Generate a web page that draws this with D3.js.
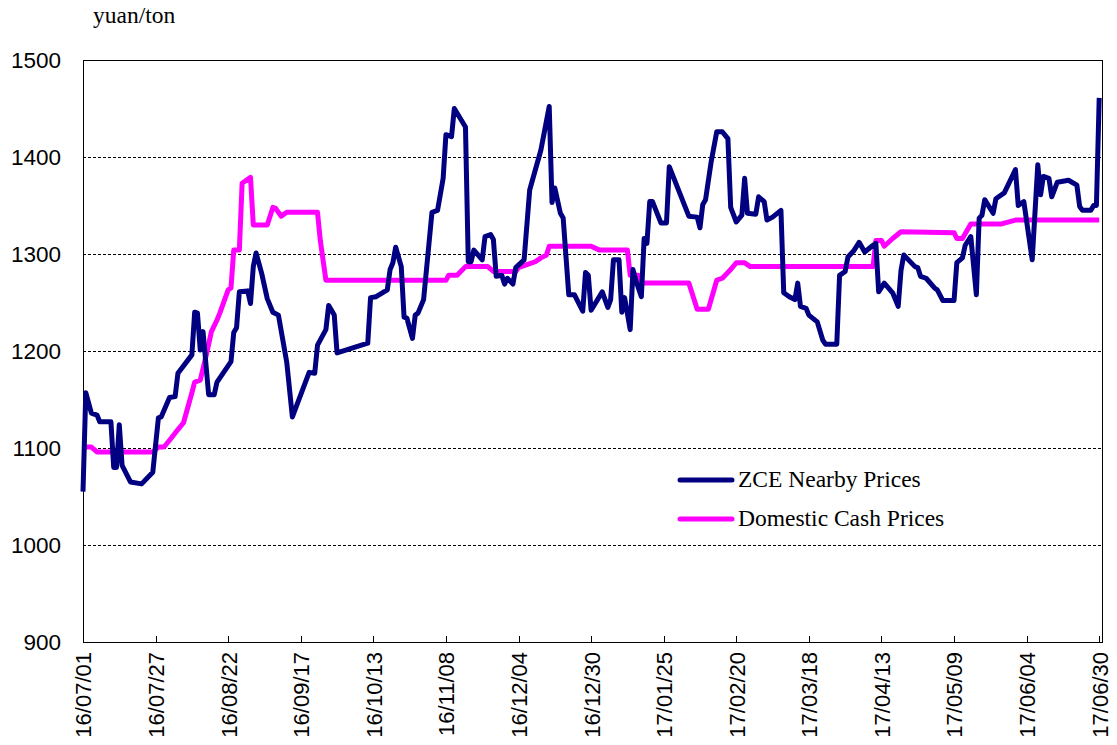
<!DOCTYPE html>
<html>
<head>
<meta charset="utf-8">
<script src="https://cdn.jsdelivr.net/npm/d3@7"></script>
<style>
  body { margin: 0; background: #fff; }
  svg { display: block; }
  .axis text { font-family: "Liberation Sans", Arial, sans-serif; fill: #000; }
  .serif { font-family: "Liberation Serif", "Times New Roman", serif; fill: #000; }
</style>
</head>
<body>
<svg width="1117" height="745"></svg>
<script>
// ZCE nearby futures, yuan/ton
var zceDates = [
  "16/07/01","16/07/02","16/07/04","16/07/06","16/07/07","16/07/11","16/07/12","16/07/13","16/07/14","16/07/15",
  "16/07/18","16/07/22","16/07/26","16/07/28","16/07/29","16/08/01","16/08/03","16/08/04","16/08/09","16/08/10",
  "16/08/11","16/08/12","16/08/13","16/08/15","16/08/17","16/08/18","16/08/23","16/08/24","16/08/25","16/08/26",
  "16/08/29","16/08/30","16/08/31","16/09/01","16/09/03","16/09/05","16/09/07","16/09/09","16/09/12","16/09/14",
  "16/09/20","16/09/22","16/09/23","16/09/26","16/09/27","16/09/29","16/09/30","16/10/11","16/10/12","16/10/14",
  "16/10/18","16/10/19","16/10/20","16/10/21","16/10/23","16/10/24","16/10/25","16/10/27","16/10/28","16/10/29",
  "16/10/31","16/11/03","16/11/05","16/11/07","16/11/08","16/11/10","16/11/11","16/11/15","16/11/16","16/11/17",
  "16/11/18","16/11/21","16/11/22","16/11/24","16/11/25","16/11/26","16/11/28","16/11/29","16/11/30","16/12/02",
  "16/12/03","16/12/06","16/12/08","16/12/12","16/12/15","16/12/16","16/12/17","16/12/19","16/12/20","16/12/22",
  "16/12/24","16/12/27","16/12/28","16/12/29","16/12/30","17/01/03","17/01/05","17/01/06","17/01/07","17/01/09",
  "17/01/10","17/01/11","17/01/13","17/01/14","17/01/15","17/01/17","17/01/18","17/01/19","17/01/20","17/01/21",
  "17/01/24","17/01/26","17/01/27","17/02/03","17/02/06","17/02/07","17/02/08","17/02/09","17/02/11","17/02/13",
  "17/02/15","17/02/17","17/02/18","17/02/20","17/02/22","17/02/23","17/02/24","17/02/27","17/02/28","17/03/02",
  "17/03/03","17/03/05","17/03/08","17/03/09","17/03/11","17/03/13","17/03/14","17/03/15","17/03/17","17/03/18",
  "17/03/21","17/03/23","17/03/24","17/03/28","17/03/29","17/03/31","17/04/01","17/04/03","17/04/05","17/04/07",
  "17/04/10","17/04/11","17/04/12","17/04/14","17/04/17","17/04/19","17/04/20","17/04/21","17/04/22","17/04/25",
  "17/04/26","17/04/27","17/04/29","17/05/02","17/05/03","17/05/05","17/05/09","17/05/10","17/05/12","17/05/13",
  "17/05/15","17/05/17","17/05/18","17/05/19","17/05/20","17/05/23","17/05/24","17/05/25","17/05/27","17/05/31",
  "17/06/01","17/06/03","17/06/06","17/06/08","17/06/09","17/06/10","17/06/12","17/06/13","17/06/15","17/06/19",
  "17/06/22","17/06/23","17/06/24","17/06/27","17/06/28","17/06/29","17/06/30"
];
var zcePrices = [
  1055,1157,1136,1134,1127,1127,1080,1080,1124,1082,
  1065,1063,1075,1131,1132,1152,1153,1177,1196,1240,
  1239,1201,1220,1155,1155,1168,1189,1219,1224,1261,
  1262,1249,1287,1301,1280,1254,1240,1237,1188,1132,
  1178,1177,1206,1222,1247,1237,1198,1208,1255,1256,
  1263,1284,1291,1307,1287,1235,1234,1213,1237,1239,
  1253,1343,1345,1378,1423,1421,1450,1431,1292,1292,
  1304,1294,1318,1320,1315,1277,1278,1269,1275,1269,
  1286,1294,1366,1407,1452,1353,1368,1342,1337,1258,
  1258,1241,1281,1278,1242,1261,1245,1253,1294,1294,
  1240,1255,1222,1284,1273,1256,1316,1311,1354,1354,
  1332,1332,1390,1339,1338,1327,1351,1356,1395,1426,
  1426,1419,1348,1333,1340,1378,1342,1341,1359,1354,
  1335,1338,1345,1260,1256,1253,1270,1246,1244,1237,
  1230,1211,1207,1207,1278,1282,1297,1303,1312,1302,
  1309,1311,1261,1270,1260,1246,1283,1299,1296,1287,
  1286,1277,1275,1265,1263,1252,1252,1291,1296,1309,
  1318,1258,1337,1340,1356,1342,1357,1359,1363,1387,
  1350,1354,1294,1392,1361,1380,1378,1359,1374,1376,
  1371,1349,1345,1345,1350,1350,1461
];

// Domestic cash prices, yuan/ton
var cashDates = [
  "16/07/01","16/07/04","16/07/06","16/07/26","16/07/28","16/07/30","16/08/01","16/08/04","16/08/06","16/08/09",
  "16/08/10","16/08/12","16/08/14","16/08/16","16/08/18","16/08/19","16/08/22","16/08/23","16/08/24","16/08/26",
  "16/08/27","16/08/30","16/08/31","16/09/05","16/09/07","16/09/08","16/09/10","16/09/12","16/09/23","16/09/24",
  "16/09/26","16/11/08","16/11/09","16/11/12","16/11/15","16/11/23","16/11/25","16/12/03","16/12/04","16/12/07",
  "16/12/10","16/12/12","16/12/14","16/12/15","16/12/30","17/01/02","17/01/12","17/01/13","17/01/16","17/01/17",
  "17/02/03","17/02/06","17/02/10","17/02/13","17/02/15","17/02/18","17/02/20","17/02/23","17/02/25","17/04/10",
  "17/04/11","17/04/13","17/04/14","17/04/17","17/04/20","17/05/09","17/05/10","17/05/12","17/05/15","17/05/26",
  "17/05/31","17/06/30"
];
var cashPrices = [
  1101,1101,1096,1096,1101,1101,1108,1119,1126,1157,
  1168,1170,1194,1220,1232,1239,1263,1265,1304,1304,
  1373,1379,1330,1330,1348,1347,1339,1343,1343,1314,
  1273,1273,1278,1278,1287,1287,1282,1282,1286,1289,
  1292,1296,1299,1308,1308,1304,1304,1278,1278,1270,
  1270,1243,1243,1273,1275,1284,1291,1291,1287,1287,
  1314,1314,1308,1316,1323,1322,1316,1316,1331,1331,
  1335,1335
];

var xTickLabels = ["16/07/01","16/07/27","16/08/22","16/09/17","16/10/13","16/11/08","16/12/04",
  "16/12/30","17/01/25","17/02/20","17/03/18","17/04/13","17/05/09","17/06/04","17/06/30"];
var yTicks = [900, 1000, 1100, 1200, 1300, 1400, 1500];
var seriesNames = ["ZCE Nearby Prices", "Domestic Cash Prices"];
var seriesColors = ["#000080", "#ff00ff"];

var parse = d3.timeParse("%y/%m/%d");

var svg = d3.select("svg");
var margin = { top: 60, left: 83 },
    width = 1019,
    height = 582;

var x = d3.scaleTime()
  .domain([parse("16/07/01"), parse("17/07/01")])
  .range([0, width]);
var y = d3.scaleLinear().domain([900, 1500]).range([height, 0]);

var g = svg.append("g")
  .attr("transform", "translate(" + margin.left + "," + margin.top + ")");

// dotted gridlines
g.selectAll(".grid")
  .data(yTicks.filter(function (d) { return d > 900 && d < 1500; }))
  .enter().append("line")
  .attr("x1", 0).attr("x2", width)
  .attr("y1", function (d) { return y(d); })
  .attr("y2", function (d) { return y(d); })
  .attr("stroke", "#000")
  .attr("stroke-width", 1)
  .attr("stroke-dasharray", "3,2")
  .attr("shape-rendering", "crispEdges");

// y axis
var yAxis = g.append("g")
  .attr("class", "axis")
  .call(d3.axisLeft(y).tickValues(yTicks).tickSize(0).tickPadding(22).tickFormat(d3.format("d")));
yAxis.select(".domain").remove();
yAxis.selectAll("text").style("font-size", "22.5px");

// x axis, ticks pointing into the plot
var xAxis = g.append("g")
  .attr("class", "axis")
  .attr("transform", "translate(0," + height + ")")
  .call(d3.axisBottom(x).tickValues(xTickLabels.map(parse)).tickSize(-6).tickFormat(d3.timeFormat("%y/%m/%d")));
xAxis.select(".domain").remove();
xAxis.selectAll("line").attr("stroke", "#000").attr("shape-rendering", "crispEdges");
xAxis.selectAll("text")
  .style("font-size", "22px")
  .attr("transform", "rotate(-90)")
  .attr("text-anchor", "end")
  .attr("x", -10)
  .attr("y", 0)
  .attr("dy", "0.36em");

// plot frame
g.append("rect")
  .attr("width", width).attr("height", height)
  .attr("fill", "none").attr("stroke", "#000").attr("stroke-width", 1)
  .attr("shape-rendering", "crispEdges");

var line = d3.line()
  .x(function (d) { return x(d.date); })
  .y(function (d) { return y(d.value); });

var zceData = zceDates.map(function (d, i) { return { date: parse(d), value: zcePrices[i] }; });
var cashData = cashDates.map(function (d, i) { return { date: parse(d), value: cashPrices[i] }; });

g.append("path")
  .datum(cashData)
  .attr("fill", "none")
  .attr("stroke", seriesColors[1])
  .attr("stroke-width", 5)
  .attr("stroke-linejoin", "round")
  .attr("d", line);

g.append("path")
  .datum(zceData)
  .attr("fill", "none")
  .attr("stroke", seriesColors[0])
  .attr("stroke-width", 5)
  .attr("stroke-linejoin", "round")
  .attr("d", line);

// unit label
svg.append("text")
  .attr("class", "serif")
  .attr("x", 93).attr("y", 23)
  .style("font-size", "23.5px")
  .text("yuan/ton");

// legend
var legend = svg.append("g").attr("transform", "translate(680,480)");
seriesNames.forEach(function (name, i) {
  var row = legend.append("g").attr("transform", "translate(0," + (i * 39) + ")");
  row.append("line")
    .attr("x1", 0).attr("x2", 52)
    .attr("stroke", seriesColors[i])
    .attr("stroke-width", 5)
    .attr("stroke-linecap", "round");
  row.append("text")
    .attr("class", "serif")
    .attr("x", 58).attr("y", 7)
    .style("font-size", "23.5px")
    .text(name);
});
</script>
</body>
</html>
